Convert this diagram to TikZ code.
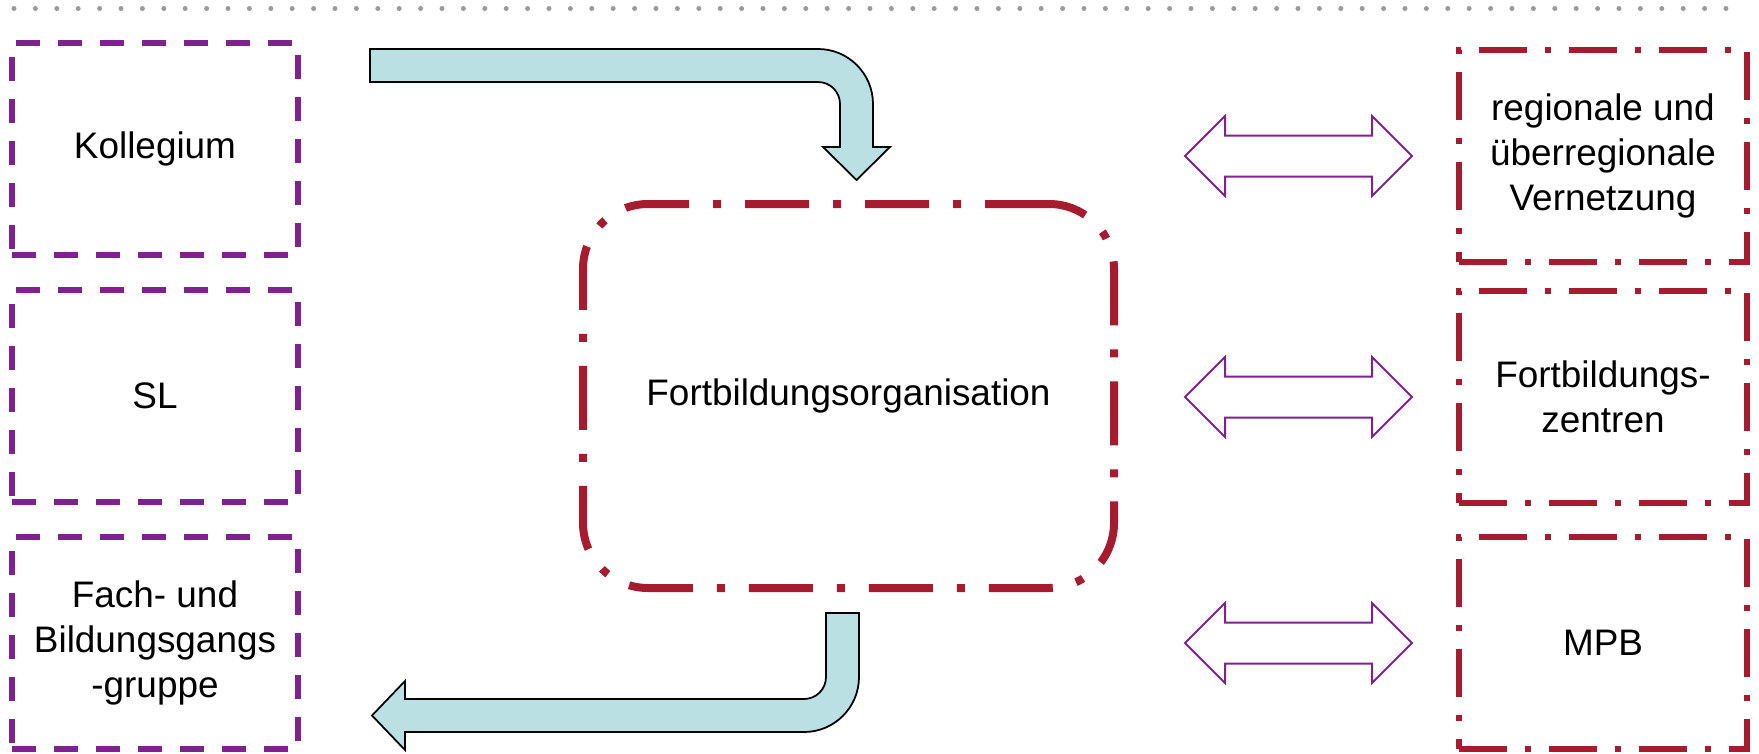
\documentclass[tikz,border=0pt]{standalone}
\usepackage{fontspec}
\setmainfont{Liberation Sans}
\usetikzlibrary{positioning,shapes.arrows}
\definecolor{lilac}{RGB}{127,33,143}
\definecolor{wine}{RGB}{166,27,46}
\definecolor{aqua}{RGB}{186,224,227}
\definecolor{dotgray}{RGB}{155,155,155}
\tikzset{
	lbox/.style = {draw=lilac, line width=0.12cm, dash pattern=on 0.48cm off 0.36cm,
	 minimum width=5.72cm, minimum height=4.24cm, align=center, outer sep=0}}
\tikzset{
	rbox/.style = {draw=wine, line width=0.12cm,
	 dash pattern=on 0.96cm off 0.36cm on 0.12cm off 0.36cm,
	 minimum width=5.76cm, minimum height=4.24cm, align=center, outer sep=0},
	orgbox/.style = {draw=wine, line width=0.16cm, rounded corners=1.3cm,
	 dash pattern=on 1.28cm off 0.48cm on 0.16cm off 0.48cm,
	 minimum width=10.62cm, minimum height=7.68cm, outer sep=0}}
\tikzset{
	darrow/.style = {double arrow, draw=lilac, fill=white, line width=0.04cm,
	 minimum height=4.54cm, minimum width=1.56cm, inner xsep=0, inner ysep=0.39cm,
	 double arrow head extend=0.39cm, double arrow head indent=0},
	bent/.style = {draw=black, fill=aqua, line width=0.035cm},
	dotline/.style = {draw=dotgray, line width=0.1cm, line cap=round,
	 dash pattern=on 0pt off 0.428cm}}

\begin{document}
\begin{tikzpicture}[node distance=0.7cm, font=\fontsize{21}{25.6}\selectfont]
\useasboundingbox (0,0) rectangle (35.18,-15.06);
\draw [dotline] (0.28,-0.17) -- (34.52,-0.17);

% NODES
% left column
\node (koll) [lbox] at (3.1,-2.98) {Kollegium};
\node (sl) [lbox, below=of koll] {SL};
\node (fach) [lbox, below=of sl] {Fach- und\\Bildungsgangs\\-gruppe};
% centre
\node (org) [orgbox] at (16.97,-7.92) {Fortbildungsorganisation};
% right column
\node (netz) [rbox] at (32.06,-3.12) {regionale und\\überregionale\\Vernetzung};
\node (zent) [rbox, below=0.58cm of netz] {Fortbildungs-\\zentren};
\node (mpb) [rbox, below=0.68cm of zent] {MPB};
% double arrows
\coordinate (arrx) at (25.97,0);
\node (pnetz) [darrow] at (arrx |- netz) {};
\node (pzent) [darrow] at (arrx |- zent) {};
\node (pmpb) [darrow] at (arrx |- mpb) {};

%CONNECTIONS
% Kollegium -> Fortbildungsorganisation
\filldraw [bent] (7.4,-0.98) -- (16.36,-0.98) arc (90:0:1.1) -- (17.46,-2.94)
 -- (17.80,-2.94) -- (17.13,-3.60) -- (16.46,-2.94) -- (16.80,-2.94)
 -- (16.80,-2.08) arc (0:90:0.44) -- (7.4,-1.64) -- cycle;
% Fortbildungsorganisation -> Fach- und Bildungsgangsgruppe
\filldraw [bent] (16.52,-12.26) -- (17.18,-12.26) -- (17.18,-13.54) arc (0:-90:1.1)
 -- (8.10,-14.64) -- (8.10,-15.00) -- (7.44,-14.31) -- (8.10,-13.62)
 -- (8.10,-13.98) -- (16.08,-13.98) arc (-90:0:0.44) -- cycle;

\end{tikzpicture}
\end{document}
